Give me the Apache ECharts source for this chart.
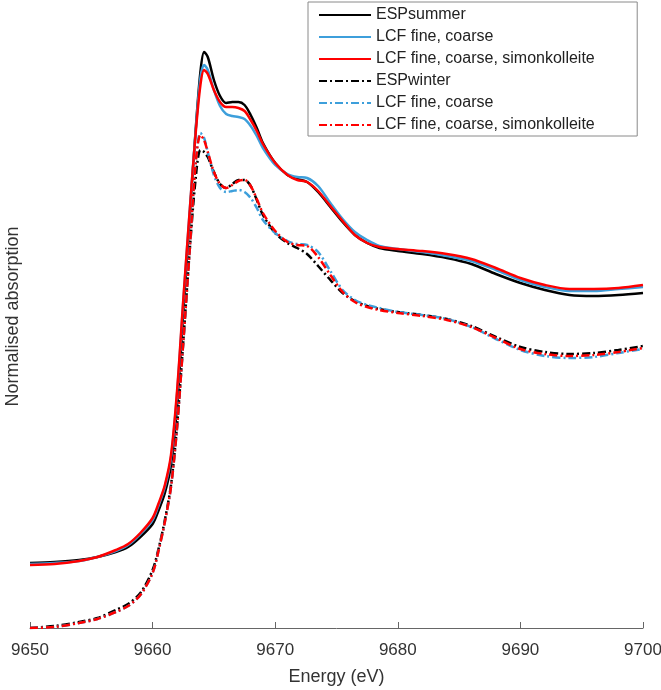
<!DOCTYPE html>
<html>
<head>
<meta charset="utf-8">
<script src="https://cdn.jsdelivr.net/npm/echarts@6/dist/echarts.min.js"></script>
<style>
  html, body { margin: 0; padding: 0; background: #fff; }
  #chart { width: 661px; height: 690px; }
</style>
</head>
<body>
<div id="chart"></div>
<script>
// energy grid (eV)
const energy = [9650, 9652, 9654, 9655.5, 9657, 9658, 9659, 9660, 9660.5, 9661, 9661.5, 9662, 9662.5, 9663, 9663.5, 9663.9, 9664.2, 9664.5, 9665, 9665.5, 9666, 9666.5, 9667, 9667.5, 9668, 9668.5, 9669, 9670, 9671, 9671.8, 9672.6, 9673.5, 9674.5, 9675.5, 9676.5, 9677.5, 9678.5, 9680, 9682, 9684, 9686, 9688, 9690, 9692, 9694, 9696, 9698, 9700];

// offset normalised absorption
const espSummer = [0.65, 0.66, 0.68, 0.71, 0.76, 0.81, 0.91, 1.04, 1.18, 1.35, 1.63, 2.23, 3.16, 4.06, 4.96, 5.56, 5.76, 5.71, 5.48, 5.32, 5.25, 5.26, 5.26, 5.23, 5.13, 5.00, 4.85, 4.65, 4.53, 4.49, 4.46, 4.36, 4.21, 4.06, 3.93, 3.85, 3.80, 3.77, 3.74, 3.70, 3.64, 3.54, 3.45, 3.38, 3.33, 3.32, 3.33, 3.35];
const lcfSummer2 = [0.64, 0.65, 0.67, 0.71, 0.77, 0.83, 0.94, 1.08, 1.23, 1.41, 1.70, 2.35, 3.26, 4.13, 4.95, 5.50, 5.63, 5.58, 5.38, 5.22, 5.14, 5.12, 5.11, 5.09, 5.02, 4.92, 4.80, 4.63, 4.54, 4.51, 4.50, 4.42, 4.25, 4.09, 3.96, 3.88, 3.82, 3.79, 3.76, 3.72, 3.67, 3.58, 3.48, 3.41, 3.37, 3.37, 3.39, 3.41];
const lcfSummer3 = [0.63, 0.64, 0.67, 0.71, 0.78, 0.84, 0.95, 1.10, 1.25, 1.43, 1.73, 2.38, 3.28, 4.13, 4.93, 5.43, 5.58, 5.54, 5.38, 5.26, 5.21, 5.21, 5.20, 5.17, 5.08, 4.97, 4.84, 4.65, 4.53, 4.48, 4.46, 4.37, 4.22, 4.07, 3.93, 3.85, 3.81, 3.79, 3.77, 3.74, 3.69, 3.60, 3.50, 3.43, 3.39, 3.39, 3.40, 3.43];
const espWinter = [0.00, 0.02, 0.06, 0.10, 0.18, 0.24, 0.35, 0.58, 0.80, 1.08, 1.43, 2.03, 2.86, 3.73, 4.48, 4.78, 4.76, 4.71, 4.56, 4.44, 4.40, 4.44, 4.48, 4.48, 4.42, 4.28, 4.13, 3.95, 3.85, 3.80, 3.74, 3.62, 3.48, 3.35, 3.27, 3.22, 3.19, 3.16, 3.13, 3.09, 3.02, 2.91, 2.81, 2.76, 2.74, 2.75, 2.78, 2.82];
const lcfWinter2 = [0.00, 0.01, 0.05, 0.09, 0.16, 0.22, 0.33, 0.55, 0.78, 1.06, 1.41, 2.01, 2.85, 3.73, 4.65, 4.95, 4.90, 4.76, 4.53, 4.40, 4.36, 4.37, 4.38, 4.36, 4.30, 4.20, 4.08, 3.95, 3.87, 3.84, 3.83, 3.76, 3.57, 3.38, 3.28, 3.23, 3.20, 3.16, 3.13, 3.09, 3.01, 2.89, 2.78, 2.72, 2.70, 2.71, 2.75, 2.79];
const lcfWinter3 = [0.00, 0.01, 0.05, 0.09, 0.16, 0.22, 0.33, 0.55, 0.78, 1.06, 1.41, 2.01, 2.85, 3.73, 4.63, 4.93, 4.88, 4.76, 4.56, 4.44, 4.40, 4.43, 4.47, 4.48, 4.42, 4.29, 4.15, 3.97, 3.86, 3.83, 3.82, 3.71, 3.53, 3.36, 3.26, 3.21, 3.18, 3.15, 3.12, 3.08, 3.01, 2.90, 2.79, 2.74, 2.72, 2.73, 2.76, 2.80];

const xTicks = [9650, 9660, 9670, 9680, 9690, 9700];

const BLACK = '#000000';
const BLUE = '#3d9fdb';
const RED = '#ff0000';
const DASHDOT = [8, 3, 2, 3];

function mk(name, values, color, dashed) {
  return {
    name: name,
    type: 'line',
    data: energy.map((e, i) => [e, values[i]]),
    symbol: 'none',
    smooth: 0.3,
    lineStyle: { color: color, width: 2.5, type: dashed ? DASHDOT : 'solid' },
    itemStyle: { color: color },
    emphasis: { disabled: true }
  };
}

const chart = echarts.init(document.getElementById('chart'), null, { renderer: 'canvas' });
chart.setOption({
  animation: false,
  textStyle: { fontFamily: 'Liberation Sans, Arial, sans-serif' },
  grid: { left: 30, right: 18, top: 5, bottom: 62, outerBoundsMode: 'none' },
  legend: {
    orient: 'vertical',
    left: 308,
    top: 2,
    padding: [5, 38, 3, 10],
    itemWidth: 52,
    itemHeight: 14,
    itemGap: 6,
    itemStyle: { opacity: 0 },
    borderColor: '#8a8a8a',
    borderWidth: 1,
    textStyle: { fontSize: 16, color: '#222', lineHeight: 16 },
    data: [
      { name: 'ESPsummer' },
      { name: 'LCF fine, coarse' },
      { name: 'LCF fine, coarse, simonkolleite' },
      { name: 'ESPwinter' },
      { name: 'LCF fine, coarse ' },
      { name: 'LCF fine, coarse, simonkolleite ' }
    ]
  },
  xAxis: {
    type: 'value',
    min: 9650,
    max: 9700,
    interval: 10,
    name: 'Energy (eV)',
    nameLocation: 'middle',
    nameGap: 40,
    nameTextStyle: { fontSize: 18, color: '#333' },
    axisLine: { lineStyle: { color: '#666', width: 1 } },
    axisTick: { inside: true, length: 6, lineStyle: { color: '#666' } },
    axisLabel: { fontSize: 17, color: '#333', margin: 14,
      customValues: xTicks, formatter: v => String(v) },
    splitLine: { show: false }
  },
  yAxis: {
    type: 'value',
    min: 0,
    max: 6.23,
    name: 'Normalised absorption',
    nameLocation: 'middle',
    nameRotate: 90,
    nameGap: 8,
    nameTextStyle: { fontSize: 18, color: '#333' },
    axisLine: { show: false },
    axisTick: { show: false },
    axisLabel: { show: false },
    splitLine: { show: false }
  },
  series: [
    mk('ESPsummer', espSummer, BLACK, false),
    mk('LCF fine, coarse', lcfSummer2, BLUE, false),
    mk('LCF fine, coarse, simonkolleite', lcfSummer3, RED, false),
    mk('ESPwinter', espWinter, BLACK, true),
    mk('LCF fine, coarse ', lcfWinter2, BLUE, true),
    mk('LCF fine, coarse, simonkolleite ', lcfWinter3, RED, true)
  ]
});
</script>
</body>
</html>
